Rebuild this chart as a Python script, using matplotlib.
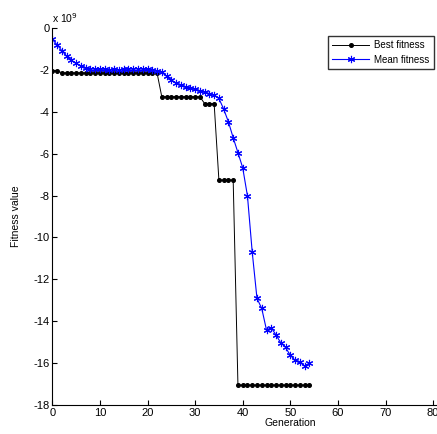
import matplotlib
matplotlib.use("Agg")
import matplotlib.pyplot as plt
import numpy as np

plt.rcParams['font.family'] = ['Liberation Sans', 'DejaVu Sans']
plt.rcParams['axes.unicode_minus'] = False

generations = list(range(55))
best_fitness = ([-2.04, -2.04] + [-2.14] * 21 + [-3.28] * 9 + [-3.61] * 3
                + [-7.26] * 4 + [-17.05] * 16)
mean_fitness = [-0.54, -0.80, -1.08, -1.34, -1.55, -1.69, -1.80, -1.89, -1.95, -1.97,
                -1.98, -1.97, -1.99, -1.98, -1.99, -1.98, -1.97, -1.96, -1.95, -1.97,
                -1.98, -2.00, -2.03, -2.12, -2.30, -2.48, -2.62, -2.73, -2.80, -2.87,
                -2.93, -2.99, -3.06, -3.13, -3.22, -3.36, -3.87, -4.48, -5.24, -5.95,
                -6.67, -8.02, -10.70, -12.91, -13.39, -14.42, -14.31, -14.66, -15.03, -15.25,
                -15.63, -15.86, -15.97, -16.13, -16.01]
scale = 1e9
yticks = [0, -2, -4, -6, -8, -10, -12, -14, -16, -18]
xticks = [0, 10, 20, 30, 40, 50, 60, 70, 80, 90, 100]

W, H = 437, 434
fig = plt.figure(figsize=(W / 100, H / 100), dpi=100)
left, right, top, bottom = 52.3, 528.3, 28, 405
ax = fig.add_axes([left / W, 1 - bottom / H, (right - left) / W, (bottom - top) / H])

ax.plot(generations, np.array(best_fitness) * scale, color='black', lw=0.7,
        marker='o', ms=2.6, mec='black', mfc='black', label='Best fitness')
ax.plot(generations, np.array(mean_fitness) * scale, color='blue', lw=0.8,
        marker=(6, 2, 0), ms=5.2, mew=0.8, mec='blue', label='Mean fitness')

ax.set_xlim(0, 100)
ax.set_ylim(-18 * scale, 0)
ax.set_xticks(xticks)
ax.set_yticks([v * scale for v in yticks])
ax.set_yticklabels([str(v) for v in yticks])
ax.tick_params(direction='in', length=3.6, width=0.8, labelsize=8, pad=2)
for s in ['top', 'right']:
    ax.spines[s].set_visible(False)
for s in ['left', 'bottom']:
    ax.spines[s].set_linewidth(0.8)

ax.set_xlabel('Generation', fontsize=7.5, labelpad=0.5)
fig.text(16 / W, 1 - 216 / H, 'Fitness value', rotation=90, fontsize=7.5,
         ha='center', va='center')
fig.text(52 / W, 1 - 18 / H, r'x 10$^{9}$', fontsize=7.5, ha='left', va='center')

leg = ax.legend(loc='upper left', bbox_to_anchor=(328 / W, 1 - 36 / H),
                bbox_transform=fig.transFigure, fontsize=7, frameon=True,
                fancybox=False, handlelength=3.8, borderpad=0.45, labelspacing=0.45,
                handletextpad=0.5, borderaxespad=0)
leg.get_frame().set_edgecolor('black')
leg.get_frame().set_linewidth(1.0)

fig.savefig('out.png', dpi=100)
